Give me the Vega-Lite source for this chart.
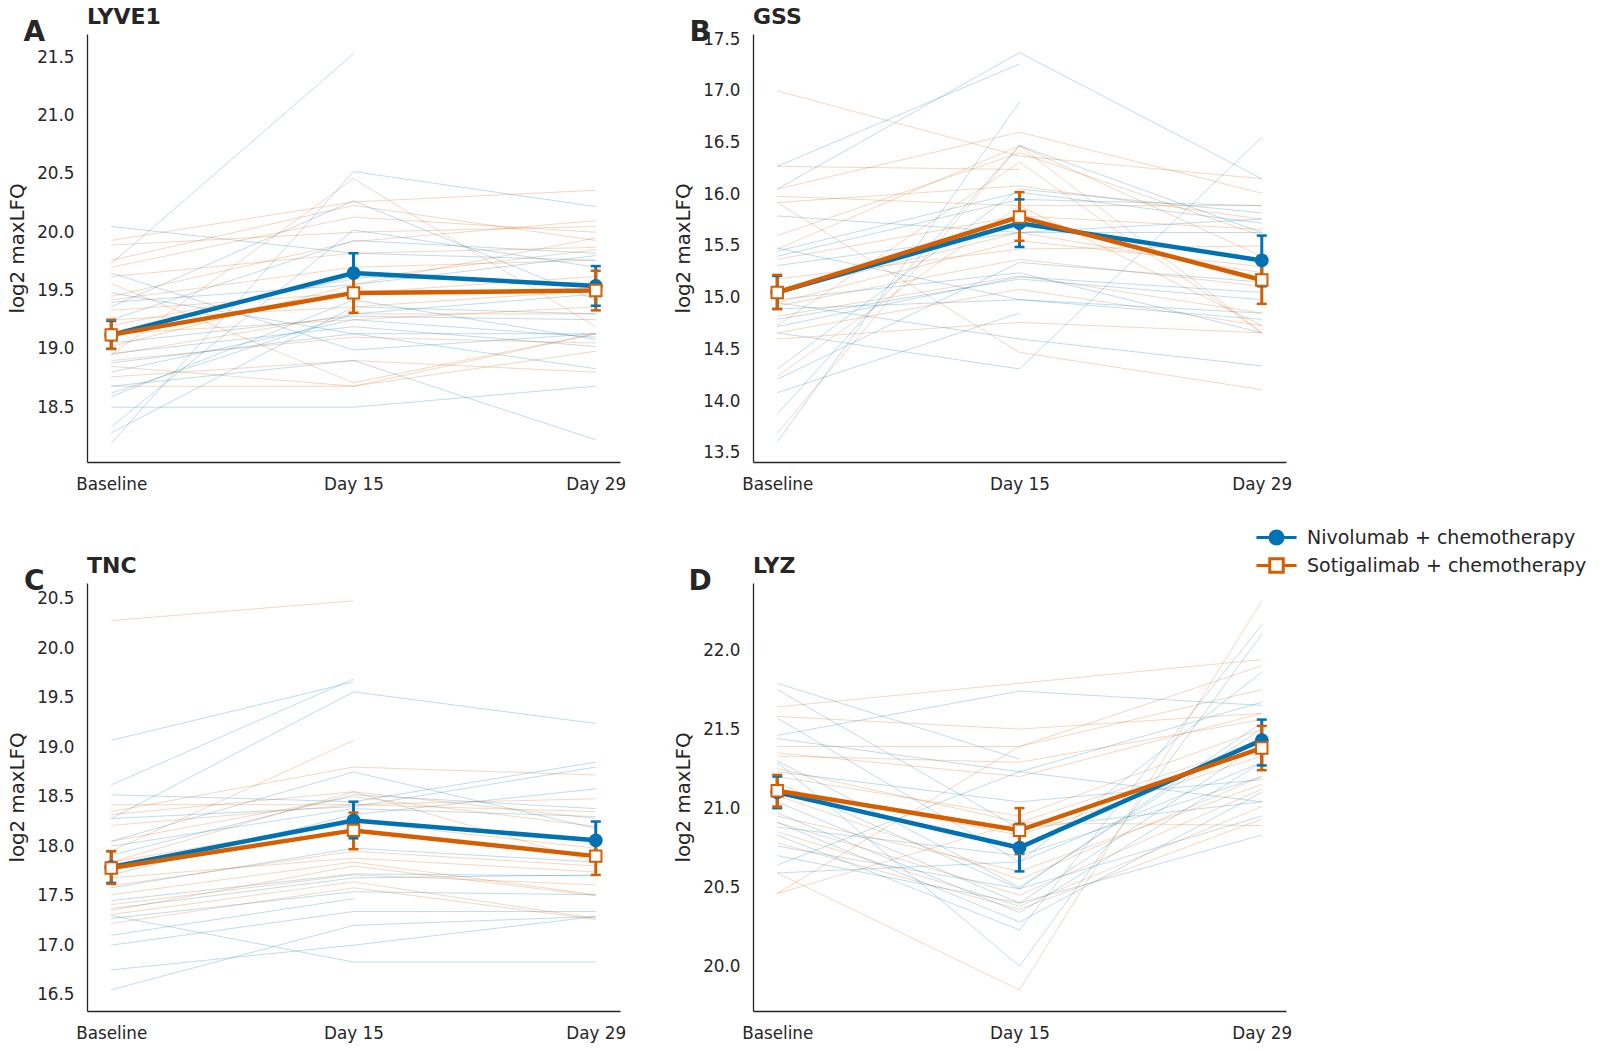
{
  "$schema": "https://vega.github.io/schema/vega-lite/v6.json",
  "background": "white",
  "padding": {"left": 7, "top": 6, "right": 5, "bottom": 5},
  "bounds": "flush",
  "columns": 2,
  "spacing": {"row": 121, "column": 133},
  "datasets": {
    "patients": [
      {"gene": "LYVE1", "arm": "Nivolumab + chemotherapy", "pid": 1, "Baseline": 18.19, "Day 15": 20.52, "Day 29": 20.22},
      {"gene": "LYVE1", "arm": "Nivolumab + chemotherapy", "pid": 2, "Baseline": 19.73, "Day 15": 21.53, "Day 29": null},
      {"gene": "LYVE1", "arm": "Nivolumab + chemotherapy", "pid": 3, "Baseline": 18.33, "Day 15": 20.02, "Day 29": 19.70},
      {"gene": "LYVE1", "arm": "Nivolumab + chemotherapy", "pid": 4, "Baseline": 18.50, "Day 15": 18.50, "Day 29": 18.68},
      {"gene": "LYVE1", "arm": "Nivolumab + chemotherapy", "pid": 5, "Baseline": 18.59, "Day 15": 19.42, "Day 29": 19.08},
      {"gene": "LYVE1", "arm": "Nivolumab + chemotherapy", "pid": 6, "Baseline": 18.68, "Day 15": 18.90, "Day 29": 18.22},
      {"gene": "LYVE1", "arm": "Nivolumab + chemotherapy", "pid": 7, "Baseline": 18.88, "Day 15": 19.13, "Day 29": 19.13},
      {"gene": "LYVE1", "arm": "Nivolumab + chemotherapy", "pid": 8, "Baseline": 18.96, "Day 15": 19.19, "Day 29": 19.02},
      {"gene": "LYVE1", "arm": "Nivolumab + chemotherapy", "pid": 9, "Baseline": 19.05, "Day 15": 19.28, "Day 29": 19.25},
      {"gene": "LYVE1", "arm": "Nivolumab + chemotherapy", "pid": 10, "Baseline": 19.13, "Day 15": 19.62, "Day 29": 19.56},
      {"gene": "LYVE1", "arm": "Nivolumab + chemotherapy", "pid": 11, "Baseline": 19.25, "Day 15": 19.93, "Day 29": 19.82},
      {"gene": "LYVE1", "arm": "Nivolumab + chemotherapy", "pid": 12, "Baseline": 19.36, "Day 15": 20.27, "Day 29": 19.42},
      {"gene": "LYVE1", "arm": "Nivolumab + chemotherapy", "pid": 13, "Baseline": 19.48, "Day 15": 19.13, "Day 29": 18.83},
      {"gene": "LYVE1", "arm": "Nivolumab + chemotherapy", "pid": 14, "Baseline": 19.65, "Day 15": 18.99, "Day 29": 19.13},
      {"gene": "LYVE1", "arm": "Nivolumab + chemotherapy", "pid": 15, "Baseline": 20.05, "Day 15": 19.82, "Day 29": 19.76},
      {"gene": "LYVE1", "arm": "Nivolumab + chemotherapy", "pid": 16, "Baseline": 18.28, "Day 15": 19.36, "Day 29": 19.30},
      {"gene": "LYVE1", "arm": "Nivolumab + chemotherapy", "pid": 17, "Baseline": 18.62, "Day 15": 19.30, "Day 29": 19.47},
      {"gene": "LYVE1", "arm": "Nivolumab + chemotherapy", "pid": 18, "Baseline": 19.40, "Day 15": 19.55, "Day 29": 19.80},
      {"gene": "LYVE1", "arm": "Nivolumab + chemotherapy", "pid": 19, "Baseline": 18.80, "Day 15": 19.25, "Day 29": 19.10},
      {"gene": "LYVE1", "arm": "Sotigalimab + chemotherapy", "pid": 101, "Baseline": 19.93, "Day 15": 20.26, "Day 29": 20.36},
      {"gene": "LYVE1", "arm": "Sotigalimab + chemotherapy", "pid": 102, "Baseline": 19.89, "Day 15": 20.00, "Day 29": 20.05},
      {"gene": "LYVE1", "arm": "Sotigalimab + chemotherapy", "pid": 103, "Baseline": 19.76, "Day 15": 20.23, "Day 29": 19.93},
      {"gene": "LYVE1", "arm": "Sotigalimab + chemotherapy", "pid": 104, "Baseline": 19.70, "Day 15": 20.13, "Day 29": 20.00},
      {"gene": "LYVE1", "arm": "Sotigalimab + chemotherapy", "pid": 105, "Baseline": 19.62, "Day 15": 19.82, "Day 29": 19.87},
      {"gene": "LYVE1", "arm": "Sotigalimab + chemotherapy", "pid": 106, "Baseline": 19.56, "Day 15": 18.71, "Day 29": 19.13},
      {"gene": "LYVE1", "arm": "Sotigalimab + chemotherapy", "pid": 107, "Baseline": 19.42, "Day 15": 19.70, "Day 29": 19.76},
      {"gene": "LYVE1", "arm": "Sotigalimab + chemotherapy", "pid": 108, "Baseline": 19.33, "Day 15": 19.48, "Day 29": 19.62},
      {"gene": "LYVE1", "arm": "Sotigalimab + chemotherapy", "pid": 109, "Baseline": 19.25, "Day 15": 19.36, "Day 29": 19.50},
      {"gene": "LYVE1", "arm": "Sotigalimab + chemotherapy", "pid": 110, "Baseline": 19.13, "Day 15": 19.25, "Day 29": 19.36},
      {"gene": "LYVE1", "arm": "Sotigalimab + chemotherapy", "pid": 111, "Baseline": 18.95, "Day 15": 20.46, "Day 29": 19.19},
      {"gene": "LYVE1", "arm": "Sotigalimab + chemotherapy", "pid": 112, "Baseline": 18.90, "Day 15": 19.10, "Day 29": 19.05},
      {"gene": "LYVE1", "arm": "Sotigalimab + chemotherapy", "pid": 113, "Baseline": 18.85, "Day 15": 18.68, "Day 29": 18.98},
      {"gene": "LYVE1", "arm": "Sotigalimab + chemotherapy", "pid": 114, "Baseline": 18.76, "Day 15": 18.90, "Day 29": 18.80},
      {"gene": "LYVE1", "arm": "Sotigalimab + chemotherapy", "pid": 115, "Baseline": 18.68, "Day 15": 18.68, "Day 29": 19.13},
      {"gene": "LYVE1", "arm": "Sotigalimab + chemotherapy", "pid": 116, "Baseline": 19.02, "Day 15": 19.55, "Day 29": 19.95},
      {"gene": "LYVE1", "arm": "Sotigalimab + chemotherapy", "pid": 117, "Baseline": 19.45, "Day 15": 19.92, "Day 29": 20.10},
      {"gene": "LYVE1", "arm": "Sotigalimab + chemotherapy", "pid": 118, "Baseline": 18.95, "Day 15": 19.30, "Day 29": 19.30},
      {"gene": "LYVE1", "arm": "Sotigalimab + chemotherapy", "pid": 119, "Baseline": 19.20, "Day 15": 19.60, "Day 29": 19.85},

      {"gene": "GSS", "arm": "Nivolumab + chemotherapy", "pid": 201, "Baseline": 16.05, "Day 15": 17.37, "Day 29": 16.15},
      {"gene": "GSS", "arm": "Nivolumab + chemotherapy", "pid": 202, "Baseline": 16.27, "Day 15": 17.26, "Day 29": null},
      {"gene": "GSS", "arm": "Nivolumab + chemotherapy", "pid": 203, "Baseline": 13.60, "Day 15": 16.89, "Day 29": null},
      {"gene": "GSS", "arm": "Nivolumab + chemotherapy", "pid": 204, "Baseline": 13.87, "Day 15": 16.47, "Day 29": 15.63},
      {"gene": "GSS", "arm": "Nivolumab + chemotherapy", "pid": 205, "Baseline": 14.66, "Day 15": 14.31, "Day 29": 16.55},
      {"gene": "GSS", "arm": "Nivolumab + chemotherapy", "pid": 206, "Baseline": 14.08, "Day 15": 14.85, "Day 29": null},
      {"gene": "GSS", "arm": "Nivolumab + chemotherapy", "pid": 207, "Baseline": 14.21, "Day 15": 15.34, "Day 29": 15.15},
      {"gene": "GSS", "arm": "Nivolumab + chemotherapy", "pid": 208, "Baseline": 14.31, "Day 15": 16.05, "Day 29": 15.82},
      {"gene": "GSS", "arm": "Nivolumab + chemotherapy", "pid": 209, "Baseline": 14.79, "Day 15": 15.18, "Day 29": 14.98},
      {"gene": "GSS", "arm": "Nivolumab + chemotherapy", "pid": 210, "Baseline": 14.89, "Day 15": 14.98, "Day 29": 14.79},
      {"gene": "GSS", "arm": "Nivolumab + chemotherapy", "pid": 211, "Baseline": 14.98, "Day 15": 15.24, "Day 29": 14.66},
      {"gene": "GSS", "arm": "Nivolumab + chemotherapy", "pid": 212, "Baseline": 15.31, "Day 15": 15.63, "Day 29": 15.76},
      {"gene": "GSS", "arm": "Nivolumab + chemotherapy", "pid": 213, "Baseline": 15.40, "Day 15": 15.95, "Day 29": 15.89},
      {"gene": "GSS", "arm": "Nivolumab + chemotherapy", "pid": 214, "Baseline": 15.48, "Day 15": 14.98, "Day 29": 14.85},
      {"gene": "GSS", "arm": "Nivolumab + chemotherapy", "pid": 215, "Baseline": 15.79, "Day 15": 15.63, "Day 29": 15.63},
      {"gene": "GSS", "arm": "Nivolumab + chemotherapy", "pid": 216, "Baseline": 14.95, "Day 15": 14.60, "Day 29": 14.34},
      {"gene": "GSS", "arm": "Nivolumab + chemotherapy", "pid": 217, "Baseline": 15.45, "Day 15": 16.02, "Day 29": 15.72},
      {"gene": "GSS", "arm": "Nivolumab + chemotherapy", "pid": 218, "Baseline": 14.72, "Day 15": 15.20, "Day 29": 15.05},
      {"gene": "GSS", "arm": "Sotigalimab + chemotherapy", "pid": 301, "Baseline": 17.00, "Day 15": 16.37, "Day 29": 16.15},
      {"gene": "GSS", "arm": "Sotigalimab + chemotherapy", "pid": 302, "Baseline": 16.27, "Day 15": 16.24, "Day 29": null},
      {"gene": "GSS", "arm": "Sotigalimab + chemotherapy", "pid": 303, "Baseline": 16.05, "Day 15": 16.60, "Day 29": 16.01},
      {"gene": "GSS", "arm": "Sotigalimab + chemotherapy", "pid": 304, "Baseline": 15.98, "Day 15": 15.89, "Day 29": 15.89},
      {"gene": "GSS", "arm": "Sotigalimab + chemotherapy", "pid": 305, "Baseline": 15.92, "Day 15": 16.08, "Day 29": 15.76},
      {"gene": "GSS", "arm": "Sotigalimab + chemotherapy", "pid": 306, "Baseline": 15.47, "Day 15": 16.47, "Day 29": 15.40},
      {"gene": "GSS", "arm": "Sotigalimab + chemotherapy", "pid": 307, "Baseline": 15.37, "Day 15": 15.79, "Day 29": 15.66},
      {"gene": "GSS", "arm": "Sotigalimab + chemotherapy", "pid": 308, "Baseline": 15.18, "Day 15": 15.47, "Day 29": 15.50},
      {"gene": "GSS", "arm": "Sotigalimab + chemotherapy", "pid": 309, "Baseline": 15.05, "Day 15": 15.63, "Day 29": 15.24},
      {"gene": "GSS", "arm": "Sotigalimab + chemotherapy", "pid": 310, "Baseline": 14.92, "Day 15": 15.37, "Day 29": 15.11},
      {"gene": "GSS", "arm": "Sotigalimab + chemotherapy", "pid": 311, "Baseline": 14.82, "Day 15": 15.21, "Day 29": 14.85},
      {"gene": "GSS", "arm": "Sotigalimab + chemotherapy", "pid": 312, "Baseline": 14.73, "Day 15": 16.31, "Day 29": 14.66},
      {"gene": "GSS", "arm": "Sotigalimab + chemotherapy", "pid": 313, "Baseline": 14.66, "Day 15": 15.08, "Day 29": 14.73},
      {"gene": "GSS", "arm": "Sotigalimab + chemotherapy", "pid": 314, "Baseline": 14.60, "Day 15": 14.76, "Day 29": 14.66},
      {"gene": "GSS", "arm": "Sotigalimab + chemotherapy", "pid": 315, "Baseline": 14.24, "Day 15": 15.89, "Day 29": 14.73},
      {"gene": "GSS", "arm": "Sotigalimab + chemotherapy", "pid": 316, "Baseline": 13.69, "Day 15": 16.47, "Day 29": 14.66},
      {"gene": "GSS", "arm": "Sotigalimab + chemotherapy", "pid": 317, "Baseline": 15.92, "Day 15": 14.47, "Day 29": 14.11},
      {"gene": "GSS", "arm": "Sotigalimab + chemotherapy", "pid": 318, "Baseline": 15.60, "Day 15": 16.40, "Day 29": 15.60},
      {"gene": "GSS", "arm": "Sotigalimab + chemotherapy", "pid": 319, "Baseline": 14.95, "Day 15": 15.55, "Day 29": 15.30},

      {"gene": "TNC", "arm": "Nivolumab + chemotherapy", "pid": 401, "Baseline": 19.07, "Day 15": 19.66, "Day 29": null},
      {"gene": "TNC", "arm": "Nivolumab + chemotherapy", "pid": 402, "Baseline": 18.62, "Day 15": 19.69, "Day 29": null},
      {"gene": "TNC", "arm": "Nivolumab + chemotherapy", "pid": 403, "Baseline": 18.28, "Day 15": 19.56, "Day 29": 19.24},
      {"gene": "TNC", "arm": "Nivolumab + chemotherapy", "pid": 404, "Baseline": 18.52, "Day 15": 18.45, "Day 29": 18.85},
      {"gene": "TNC", "arm": "Nivolumab + chemotherapy", "pid": 405, "Baseline": 18.05, "Day 15": 18.75, "Day 29": 18.18},
      {"gene": "TNC", "arm": "Nivolumab + chemotherapy", "pid": 406, "Baseline": 17.91, "Day 15": 18.52, "Day 29": 18.38},
      {"gene": "TNC", "arm": "Nivolumab + chemotherapy", "pid": 407, "Baseline": 17.71, "Day 15": 18.32, "Day 29": 18.58},
      {"gene": "TNC", "arm": "Nivolumab + chemotherapy", "pid": 408, "Baseline": 17.58, "Day 15": 17.98, "Day 29": 17.84},
      {"gene": "TNC", "arm": "Nivolumab + chemotherapy", "pid": 409, "Baseline": 17.37, "Day 15": 17.68, "Day 29": 17.71},
      {"gene": "TNC", "arm": "Nivolumab + chemotherapy", "pid": 410, "Baseline": 17.27, "Day 15": 17.54, "Day 29": 17.51},
      {"gene": "TNC", "arm": "Nivolumab + chemotherapy", "pid": 411, "Baseline": 17.10, "Day 15": 17.47, "Day 29": null},
      {"gene": "TNC", "arm": "Nivolumab + chemotherapy", "pid": 412, "Baseline": 17.00, "Day 15": 17.34, "Day 29": 17.34},
      {"gene": "TNC", "arm": "Nivolumab + chemotherapy", "pid": 413, "Baseline": 17.30, "Day 15": 16.83, "Day 29": 16.83},
      {"gene": "TNC", "arm": "Nivolumab + chemotherapy", "pid": 414, "Baseline": 16.75, "Day 15": 17.00, "Day 29": 17.29},
      {"gene": "TNC", "arm": "Nivolumab + chemotherapy", "pid": 415, "Baseline": 16.55, "Day 15": 17.20, "Day 29": 17.29},
      {"gene": "TNC", "arm": "Nivolumab + chemotherapy", "pid": 416, "Baseline": 18.28, "Day 15": 18.40, "Day 29": 18.80},
      {"gene": "TNC", "arm": "Nivolumab + chemotherapy", "pid": 417, "Baseline": 18.00, "Day 15": 18.38, "Day 29": 18.30},
      {"gene": "TNC", "arm": "Nivolumab + chemotherapy", "pid": 418, "Baseline": 17.45, "Day 15": 17.72, "Day 29": 17.70},
      {"gene": "TNC", "arm": "Sotigalimab + chemotherapy", "pid": 501, "Baseline": 20.28, "Day 15": 20.48, "Day 29": null},
      {"gene": "TNC", "arm": "Sotigalimab + chemotherapy", "pid": 502, "Baseline": 18.42, "Day 15": 18.42, "Day 29": 18.48},
      {"gene": "TNC", "arm": "Sotigalimab + chemotherapy", "pid": 503, "Baseline": 18.35, "Day 15": 18.80, "Day 29": 18.72},
      {"gene": "TNC", "arm": "Sotigalimab + chemotherapy", "pid": 504, "Baseline": 18.32, "Day 15": 18.55, "Day 29": 18.28},
      {"gene": "TNC", "arm": "Sotigalimab + chemotherapy", "pid": 505, "Baseline": 18.21, "Day 15": 18.42, "Day 29": 18.35},
      {"gene": "TNC", "arm": "Sotigalimab + chemotherapy", "pid": 506, "Baseline": 17.95, "Day 15": 19.07, "Day 29": null},
      {"gene": "TNC", "arm": "Sotigalimab + chemotherapy", "pid": 507, "Baseline": 17.84, "Day 15": 18.25, "Day 29": 17.98},
      {"gene": "TNC", "arm": "Sotigalimab + chemotherapy", "pid": 508, "Baseline": 17.68, "Day 15": 17.88, "Day 29": 17.74},
      {"gene": "TNC", "arm": "Sotigalimab + chemotherapy", "pid": 509, "Baseline": 17.51, "Day 15": 17.84, "Day 29": 17.51},
      {"gene": "TNC", "arm": "Sotigalimab + chemotherapy", "pid": 510, "Baseline": 17.41, "Day 15": 17.71, "Day 29": 17.61},
      {"gene": "TNC", "arm": "Sotigalimab + chemotherapy", "pid": 511, "Baseline": 17.31, "Day 15": 17.64, "Day 29": 17.27},
      {"gene": "TNC", "arm": "Sotigalimab + chemotherapy", "pid": 512, "Baseline": 17.22, "Day 15": 17.58, "Day 29": 17.26},
      {"gene": "TNC", "arm": "Sotigalimab + chemotherapy", "pid": 513, "Baseline": 17.84, "Day 15": 18.55, "Day 29": 17.84},
      {"gene": "TNC", "arm": "Sotigalimab + chemotherapy", "pid": 514, "Baseline": 18.05, "Day 15": 18.50, "Day 29": 18.20},
      {"gene": "TNC", "arm": "Sotigalimab + chemotherapy", "pid": 515, "Baseline": 17.60, "Day 15": 17.95, "Day 29": 17.80},
      {"gene": "TNC", "arm": "Sotigalimab + chemotherapy", "pid": 516, "Baseline": 17.35, "Day 15": 17.80, "Day 29": 17.50},

      {"gene": "LYZ", "arm": "Nivolumab + chemotherapy", "pid": 601, "Baseline": 21.79, "Day 15": 21.31, "Day 29": null},
      {"gene": "LYZ", "arm": "Nivolumab + chemotherapy", "pid": 602, "Baseline": 21.75, "Day 15": 20.87, "Day 29": 21.04},
      {"gene": "LYZ", "arm": "Nivolumab + chemotherapy", "pid": 603, "Baseline": 21.57, "Day 15": 20.66, "Day 29": 21.86},
      {"gene": "LYZ", "arm": "Nivolumab + chemotherapy", "pid": 604, "Baseline": 21.46, "Day 15": 21.74, "Day 29": 21.65},
      {"gene": "LYZ", "arm": "Nivolumab + chemotherapy", "pid": 605, "Baseline": 21.44, "Day 15": 21.23, "Day 29": 21.67},
      {"gene": "LYZ", "arm": "Nivolumab + chemotherapy", "pid": 606, "Baseline": 21.29, "Day 15": 20.00, "Day 29": 22.10},
      {"gene": "LYZ", "arm": "Nivolumab + chemotherapy", "pid": 607, "Baseline": 21.23, "Day 15": 21.04, "Day 29": 21.18},
      {"gene": "LYZ", "arm": "Nivolumab + chemotherapy", "pid": 608, "Baseline": 21.16, "Day 15": 20.49, "Day 29": 21.54},
      {"gene": "LYZ", "arm": "Nivolumab + chemotherapy", "pid": 609, "Baseline": 21.04, "Day 15": 20.40, "Day 29": 21.41},
      {"gene": "LYZ", "arm": "Nivolumab + chemotherapy", "pid": 610, "Baseline": 20.97, "Day 15": 20.34, "Day 29": 21.29},
      {"gene": "LYZ", "arm": "Nivolumab + chemotherapy", "pid": 611, "Baseline": 20.91, "Day 15": 20.28, "Day 29": 21.10},
      {"gene": "LYZ", "arm": "Nivolumab + chemotherapy", "pid": 612, "Baseline": 20.83, "Day 15": 20.23, "Day 29": 22.16},
      {"gene": "LYZ", "arm": "Nivolumab + chemotherapy", "pid": 613, "Baseline": 20.76, "Day 15": 20.49, "Day 29": 20.95},
      {"gene": "LYZ", "arm": "Nivolumab + chemotherapy", "pid": 614, "Baseline": 20.70, "Day 15": 20.40, "Day 29": 20.83},
      {"gene": "LYZ", "arm": "Nivolumab + chemotherapy", "pid": 615, "Baseline": 20.64, "Day 15": 21.23, "Day 29": 21.04},
      {"gene": "LYZ", "arm": "Nivolumab + chemotherapy", "pid": 616, "Baseline": 20.59, "Day 15": 20.66, "Day 29": 21.29},
      {"gene": "LYZ", "arm": "Nivolumab + chemotherapy", "pid": 617, "Baseline": 21.30, "Day 15": 20.50, "Day 29": 21.50},
      {"gene": "LYZ", "arm": "Nivolumab + chemotherapy", "pid": 618, "Baseline": 20.88, "Day 15": 20.70, "Day 29": 21.20},
      {"gene": "LYZ", "arm": "Sotigalimab + chemotherapy", "pid": 701, "Baseline": 21.64, "Day 15": 21.79, "Day 29": 21.94},
      {"gene": "LYZ", "arm": "Sotigalimab + chemotherapy", "pid": 702, "Baseline": 21.58, "Day 15": 21.50, "Day 29": 21.60},
      {"gene": "LYZ", "arm": "Sotigalimab + chemotherapy", "pid": 703, "Baseline": 21.39, "Day 15": 21.39, "Day 29": 21.90},
      {"gene": "LYZ", "arm": "Sotigalimab + chemotherapy", "pid": 704, "Baseline": 21.33, "Day 15": 21.29, "Day 29": 21.56},
      {"gene": "LYZ", "arm": "Sotigalimab + chemotherapy", "pid": 705, "Baseline": 21.25, "Day 15": 20.91, "Day 29": 21.41},
      {"gene": "LYZ", "arm": "Sotigalimab + chemotherapy", "pid": 706, "Baseline": 21.12, "Day 15": 20.83, "Day 29": 21.33},
      {"gene": "LYZ", "arm": "Sotigalimab + chemotherapy", "pid": 707, "Baseline": 21.08, "Day 15": 20.55, "Day 29": 21.20},
      {"gene": "LYZ", "arm": "Sotigalimab + chemotherapy", "pid": 708, "Baseline": 20.91, "Day 15": 20.45, "Day 29": 21.12},
      {"gene": "LYZ", "arm": "Sotigalimab + chemotherapy", "pid": 709, "Baseline": 20.85, "Day 15": 20.38, "Day 29": 21.01},
      {"gene": "LYZ", "arm": "Sotigalimab + chemotherapy", "pid": 710, "Baseline": 20.78, "Day 15": 20.36, "Day 29": 20.93},
      {"gene": "LYZ", "arm": "Sotigalimab + chemotherapy", "pid": 711, "Baseline": 20.59, "Day 15": 19.85, "Day 29": 22.31},
      {"gene": "LYZ", "arm": "Sotigalimab + chemotherapy", "pid": 712, "Baseline": 20.46, "Day 15": 21.39, "Day 29": 21.75},
      {"gene": "LYZ", "arm": "Sotigalimab + chemotherapy", "pid": 713, "Baseline": 20.46, "Day 15": 20.91, "Day 29": 20.89},
      {"gene": "LYZ", "arm": "Sotigalimab + chemotherapy", "pid": 714, "Baseline": 21.20, "Day 15": 20.95, "Day 29": 21.50},
      {"gene": "LYZ", "arm": "Sotigalimab + chemotherapy", "pid": 715, "Baseline": 20.95, "Day 15": 20.60, "Day 29": 21.15},
      {"gene": "LYZ", "arm": "Sotigalimab + chemotherapy", "pid": 716, "Baseline": 21.35, "Day 15": 21.20, "Day 29": 21.60}
    ],
    "means": [
      {"gene": "LYVE1", "arm": "Nivolumab + chemotherapy", "time": "Baseline", "m": 19.12, "lo": 19.00, "hi": 19.24},
      {"gene": "LYVE1", "arm": "Nivolumab + chemotherapy", "time": "Day 15", "m": 19.65, "lo": 19.48, "hi": 19.82},
      {"gene": "LYVE1", "arm": "Nivolumab + chemotherapy", "time": "Day 29", "m": 19.54, "lo": 19.37, "hi": 19.71},
      {"gene": "GSS", "arm": "Nivolumab + chemotherapy", "time": "Baseline", "m": 15.05, "lo": 14.89, "hi": 15.21},
      {"gene": "GSS", "arm": "Nivolumab + chemotherapy", "time": "Day 15", "m": 15.72, "lo": 15.49, "hi": 15.95},
      {"gene": "GSS", "arm": "Nivolumab + chemotherapy", "time": "Day 29", "m": 15.36, "lo": 15.11, "hi": 15.60},
      {"gene": "TNC", "arm": "Nivolumab + chemotherapy", "time": "Baseline", "m": 17.79, "lo": 17.63, "hi": 17.95},
      {"gene": "TNC", "arm": "Nivolumab + chemotherapy", "time": "Day 15", "m": 18.26, "lo": 18.08, "hi": 18.45},
      {"gene": "TNC", "arm": "Nivolumab + chemotherapy", "time": "Day 29", "m": 18.06, "lo": 17.86, "hi": 18.25},
      {"gene": "LYZ", "arm": "Nivolumab + chemotherapy", "time": "Baseline", "m": 21.10, "lo": 21.00, "hi": 21.20},
      {"gene": "LYZ", "arm": "Nivolumab + chemotherapy", "time": "Day 15", "m": 20.75, "lo": 20.60, "hi": 20.90},
      {"gene": "LYZ", "arm": "Nivolumab + chemotherapy", "time": "Day 29", "m": 21.43, "lo": 21.27, "hi": 21.56},
      {"gene": "LYVE1", "arm": "Sotigalimab + chemotherapy", "time": "Baseline", "m": 19.12, "lo": 19.00, "hi": 19.25},
      {"gene": "LYVE1", "arm": "Sotigalimab + chemotherapy", "time": "Day 15", "m": 19.48, "lo": 19.31, "hi": 19.64},
      {"gene": "LYVE1", "arm": "Sotigalimab + chemotherapy", "time": "Day 29", "m": 19.50, "lo": 19.33, "hi": 19.67},
      {"gene": "GSS", "arm": "Sotigalimab + chemotherapy", "time": "Baseline", "m": 15.05, "lo": 14.89, "hi": 15.22},
      {"gene": "GSS", "arm": "Sotigalimab + chemotherapy", "time": "Day 15", "m": 15.78, "lo": 15.55, "hi": 16.02},
      {"gene": "GSS", "arm": "Sotigalimab + chemotherapy", "time": "Day 29", "m": 15.17, "lo": 14.94, "hi": 15.40},
      {"gene": "TNC", "arm": "Sotigalimab + chemotherapy", "time": "Baseline", "m": 17.78, "lo": 17.62, "hi": 17.95},
      {"gene": "TNC", "arm": "Sotigalimab + chemotherapy", "time": "Day 15", "m": 18.16, "lo": 17.97, "hi": 18.34},
      {"gene": "TNC", "arm": "Sotigalimab + chemotherapy", "time": "Day 29", "m": 17.90, "lo": 17.71, "hi": 18.08},
      {"gene": "LYZ", "arm": "Sotigalimab + chemotherapy", "time": "Baseline", "m": 21.11, "lo": 21.01, "hi": 21.21},
      {"gene": "LYZ", "arm": "Sotigalimab + chemotherapy", "time": "Day 15", "m": 20.86, "lo": 20.71, "hi": 21.00},
      {"gene": "LYZ", "arm": "Sotigalimab + chemotherapy", "time": "Day 29", "m": 21.38, "lo": 21.24, "hi": 21.52}
    ]
  },
  "concat": [
    {
      "width": 533, "height": 428,
      "title": {"text": "LYVE1"},
      "layer": [
        {
          "data": {"name": "patients"},
          "transform": [
            {"filter": "datum.gene == 'LYVE1'"},
            {"fold": ["Baseline", "Day 15", "Day 29"], "as": ["time", "val"]},
            {"filter": "isValid(datum.val)"}
          ],
          "mark": {"type": "line", "strokeWidth": 1, "strokeOpacity": 0.25},
          "encoding": {
            "x": {"field": "time", "type": "ordinal", "scale": {"type": "point", "domain": ["Baseline", "Day 15", "Day 29"], "padding": 0.1}, "axis": {"title": null, "labelAngle": 0}},
            "y": {"field": "val", "type": "quantitative", "title": "log2 maxLFQ", "scale": {"domain": [18.03, 21.70], "zero": false, "nice": false}, "axis": {"values": [18.5, 19, 19.5, 20, 20.5, 21, 21.5], "format": ".1f"}},
            "color": {"field": "arm", "type": "nominal", "title": null,
              "scale": {"domain": ["Nivolumab + chemotherapy", "Sotigalimab + chemotherapy"], "range": ["#0072B2", "#D55E00"]},
              "legend": {
                "orient": "none", "legendX": 1179, "legendY": 493, "title": null,
                "symbolSize": 324, "symbolStrokeWidth": 3, "symbolOpacity": 1, "labelOffset": 20, "rowPadding": 2, "padding": 0,
                "labelFontSize": 19, "labelColor": "#262626", "labelFont": "DejaVu Sans", "labelLimit": 500,
                "encode": {"symbols": {"update": {
                  "shape": {"signal": "datum.value == 'Nivolumab + chemotherapy' ? 'M-2.23,0H2.23M-0.72,0A0.72,0.72,0,1,1,0.72,0A0.72,0.72,0,1,1,-0.72,0Z' : 'M-2.23,0H-0.75M0.75,0H2.23M-0.75,-0.75H0.75V0.75H-0.75Z'"},
                  "fill": {"signal": "datum.value == 'Nivolumab + chemotherapy' ? '#0072B2' : '#ffffff'"},
                  "opacity": {"value": 1},
                  "strokeOpacity": {"value": 1},
                  "fillOpacity": {"value": 1}
                }}}
              }},
            "detail": {"field": "pid"}
          }
        },
        {
          "data": {"name": "means"},
          "transform": [{"filter": "datum.gene == 'LYVE1'"}],
          "layer": [
            {"mark": {"type": "line", "strokeWidth": 4.5}, "encoding": {"x": {"field": "time", "type": "ordinal"}, "y": {"field": "m", "type": "quantitative", "title": "log2 maxLFQ"}, "color": {"field": "arm", "type": "nominal", "title": null}}},
            {"mark": {"type": "rule", "strokeWidth": 3}, "encoding": {"x": {"field": "time", "type": "ordinal"}, "y": {"field": "lo", "type": "quantitative", "title": "log2 maxLFQ"}, "y2": {"field": "hi"}, "color": {"field": "arm", "type": "nominal", "title": null}}},
            {"mark": {"type": "rule", "strokeWidth": 2.5, "xOffset": -5, "x2Offset": 5}, "encoding": {"x": {"field": "time", "type": "ordinal"}, "x2": {"field": "time"}, "y": {"field": "lo", "type": "quantitative", "title": "log2 maxLFQ"}, "color": {"field": "arm", "type": "nominal", "title": null}}},
            {"mark": {"type": "rule", "strokeWidth": 2.5, "xOffset": -5, "x2Offset": 5}, "encoding": {"x": {"field": "time", "type": "ordinal"}, "x2": {"field": "time"}, "y": {"field": "hi", "type": "quantitative", "title": "log2 maxLFQ"}, "color": {"field": "arm", "type": "nominal", "title": null}}},
            {"transform": [{"filter": "datum.arm == 'Nivolumab + chemotherapy'"}], "mark": {"type": "point", "shape": "circle", "filled": false, "fill": "#0072B2", "fillOpacity": 1, "size": 140, "strokeWidth": 2, "opacity": 1}, "encoding": {"x": {"field": "time", "type": "ordinal"}, "y": {"field": "m", "type": "quantitative", "title": "log2 maxLFQ"}, "color": {"field": "arm", "type": "nominal", "title": null}}},
            {"transform": [{"filter": "datum.arm == 'Sotigalimab + chemotherapy'"}], "mark": {"type": "point", "shape": "square", "filled": false, "fill": "#ffffff", "fillOpacity": 1, "size": 130, "strokeWidth": 2, "opacity": 1}, "encoding": {"x": {"field": "time", "type": "ordinal"}, "y": {"field": "m", "type": "quantitative", "title": "log2 maxLFQ"}, "color": {"field": "arm", "type": "nominal", "title": null}}}
          ]
        },
        {
          "data": {"values": [{"lab": "A"}]},
          "mark": {"type": "text", "fontSize": 28, "fontWeight": "bold", "dx": -77, "dy": 7, "align": "center", "baseline": "alphabetic", "color": "#262626"},
          "encoding": {"x": {"datum": "Baseline", "type": "ordinal"}, "y": {"datum": 21.70, "type": "quantitative"}, "text": {"field": "lab"}}
        }
      ]
    },
    {
      "width": 533, "height": 428,
      "title": {"text": "GSS"},
      "layer": [
        {
          "data": {"name": "patients"},
          "transform": [
            {"filter": "datum.gene == 'GSS'"},
            {"fold": ["Baseline", "Day 15", "Day 29"], "as": ["time", "val"]},
            {"filter": "isValid(datum.val)"}
          ],
          "mark": {"type": "line", "strokeWidth": 1, "strokeOpacity": 0.25},
          "encoding": {
            "x": {"field": "time", "type": "ordinal", "scale": {"type": "point", "domain": ["Baseline", "Day 15", "Day 29"], "padding": 0.1}, "axis": {"title": null, "labelAngle": 0}},
            "y": {"field": "val", "type": "quantitative", "title": "log2 maxLFQ", "scale": {"domain": [13.41, 17.55], "zero": false, "nice": false}, "axis": {"values": [13.5, 14, 14.5, 15, 15.5, 16, 16.5, 17, 17.5], "format": ".1f"}},
            "color": {"field": "arm", "type": "nominal", "title": null},
            "detail": {"field": "pid"}
          }
        },
        {
          "data": {"name": "means"},
          "transform": [{"filter": "datum.gene == 'GSS'"}],
          "layer": [
            {"mark": {"type": "line", "strokeWidth": 4.5}, "encoding": {"x": {"field": "time", "type": "ordinal"}, "y": {"field": "m", "type": "quantitative", "title": "log2 maxLFQ"}, "color": {"field": "arm", "type": "nominal", "title": null}}},
            {"mark": {"type": "rule", "strokeWidth": 3}, "encoding": {"x": {"field": "time", "type": "ordinal"}, "y": {"field": "lo", "type": "quantitative", "title": "log2 maxLFQ"}, "y2": {"field": "hi"}, "color": {"field": "arm", "type": "nominal", "title": null}}},
            {"mark": {"type": "rule", "strokeWidth": 2.5, "xOffset": -5, "x2Offset": 5}, "encoding": {"x": {"field": "time", "type": "ordinal"}, "x2": {"field": "time"}, "y": {"field": "lo", "type": "quantitative", "title": "log2 maxLFQ"}, "color": {"field": "arm", "type": "nominal", "title": null}}},
            {"mark": {"type": "rule", "strokeWidth": 2.5, "xOffset": -5, "x2Offset": 5}, "encoding": {"x": {"field": "time", "type": "ordinal"}, "x2": {"field": "time"}, "y": {"field": "hi", "type": "quantitative", "title": "log2 maxLFQ"}, "color": {"field": "arm", "type": "nominal", "title": null}}},
            {"transform": [{"filter": "datum.arm == 'Nivolumab + chemotherapy'"}], "mark": {"type": "point", "shape": "circle", "filled": false, "fill": "#0072B2", "fillOpacity": 1, "size": 140, "strokeWidth": 2, "opacity": 1}, "encoding": {"x": {"field": "time", "type": "ordinal"}, "y": {"field": "m", "type": "quantitative", "title": "log2 maxLFQ"}, "color": {"field": "arm", "type": "nominal", "title": null}}},
            {"transform": [{"filter": "datum.arm == 'Sotigalimab + chemotherapy'"}], "mark": {"type": "point", "shape": "square", "filled": false, "fill": "#ffffff", "fillOpacity": 1, "size": 130, "strokeWidth": 2, "opacity": 1}, "encoding": {"x": {"field": "time", "type": "ordinal"}, "y": {"field": "m", "type": "quantitative", "title": "log2 maxLFQ"}, "color": {"field": "arm", "type": "nominal", "title": null}}}
          ]
        },
        {
          "data": {"values": [{"lab": "B"}]},
          "mark": {"type": "text", "fontSize": 28, "fontWeight": "bold", "dx": -77, "dy": 7, "align": "center", "baseline": "alphabetic", "color": "#262626"},
          "encoding": {"x": {"datum": "Baseline", "type": "ordinal"}, "y": {"datum": 17.55, "type": "quantitative"}, "text": {"field": "lab"}}
        }
      ]
    },
    {
      "width": 533, "height": 428,
      "title": {"text": "TNC"},
      "layer": [
        {
          "data": {"name": "patients"},
          "transform": [
            {"filter": "datum.gene == 'TNC'"},
            {"fold": ["Baseline", "Day 15", "Day 29"], "as": ["time", "val"]},
            {"filter": "isValid(datum.val)"}
          ],
          "mark": {"type": "line", "strokeWidth": 1, "strokeOpacity": 0.25},
          "encoding": {
            "x": {"field": "time", "type": "ordinal", "scale": {"type": "point", "domain": ["Baseline", "Day 15", "Day 29"], "padding": 0.1}, "axis": {"title": null, "labelAngle": 0}},
            "y": {"field": "val", "type": "quantitative", "title": "log2 maxLFQ", "scale": {"domain": [16.335, 20.66], "zero": false, "nice": false}, "axis": {"values": [16.5, 17, 17.5, 18, 18.5, 19, 19.5, 20, 20.5], "format": ".1f"}},
            "color": {"field": "arm", "type": "nominal", "title": null},
            "detail": {"field": "pid"}
          }
        },
        {
          "data": {"name": "means"},
          "transform": [{"filter": "datum.gene == 'TNC'"}],
          "layer": [
            {"mark": {"type": "line", "strokeWidth": 4.5}, "encoding": {"x": {"field": "time", "type": "ordinal"}, "y": {"field": "m", "type": "quantitative", "title": "log2 maxLFQ"}, "color": {"field": "arm", "type": "nominal", "title": null}}},
            {"mark": {"type": "rule", "strokeWidth": 3}, "encoding": {"x": {"field": "time", "type": "ordinal"}, "y": {"field": "lo", "type": "quantitative", "title": "log2 maxLFQ"}, "y2": {"field": "hi"}, "color": {"field": "arm", "type": "nominal", "title": null}}},
            {"mark": {"type": "rule", "strokeWidth": 2.5, "xOffset": -5, "x2Offset": 5}, "encoding": {"x": {"field": "time", "type": "ordinal"}, "x2": {"field": "time"}, "y": {"field": "lo", "type": "quantitative", "title": "log2 maxLFQ"}, "color": {"field": "arm", "type": "nominal", "title": null}}},
            {"mark": {"type": "rule", "strokeWidth": 2.5, "xOffset": -5, "x2Offset": 5}, "encoding": {"x": {"field": "time", "type": "ordinal"}, "x2": {"field": "time"}, "y": {"field": "hi", "type": "quantitative", "title": "log2 maxLFQ"}, "color": {"field": "arm", "type": "nominal", "title": null}}},
            {"transform": [{"filter": "datum.arm == 'Nivolumab + chemotherapy'"}], "mark": {"type": "point", "shape": "circle", "filled": false, "fill": "#0072B2", "fillOpacity": 1, "size": 140, "strokeWidth": 2, "opacity": 1}, "encoding": {"x": {"field": "time", "type": "ordinal"}, "y": {"field": "m", "type": "quantitative", "title": "log2 maxLFQ"}, "color": {"field": "arm", "type": "nominal", "title": null}}},
            {"transform": [{"filter": "datum.arm == 'Sotigalimab + chemotherapy'"}], "mark": {"type": "point", "shape": "square", "filled": false, "fill": "#ffffff", "fillOpacity": 1, "size": 130, "strokeWidth": 2, "opacity": 1}, "encoding": {"x": {"field": "time", "type": "ordinal"}, "y": {"field": "m", "type": "quantitative", "title": "log2 maxLFQ"}, "color": {"field": "arm", "type": "nominal", "title": null}}}
          ]
        },
        {
          "data": {"values": [{"lab": "C"}]},
          "mark": {"type": "text", "fontSize": 28, "fontWeight": "bold", "dx": -77, "dy": 7, "align": "center", "baseline": "alphabetic", "color": "#262626"},
          "encoding": {"x": {"datum": "Baseline", "type": "ordinal"}, "y": {"datum": 20.66, "type": "quantitative"}, "text": {"field": "lab"}}
        }
      ]
    },
    {
      "width": 533, "height": 428,
      "title": {"text": "LYZ"},
      "layer": [
        {
          "data": {"name": "patients"},
          "transform": [
            {"filter": "datum.gene == 'LYZ'"},
            {"fold": ["Baseline", "Day 15", "Day 29"], "as": ["time", "val"]},
            {"filter": "isValid(datum.val)"}
          ],
          "mark": {"type": "line", "strokeWidth": 1, "strokeOpacity": 0.25},
          "encoding": {
            "x": {"field": "time", "type": "ordinal", "scale": {"type": "point", "domain": ["Baseline", "Day 15", "Day 29"], "padding": 0.1}, "axis": {"title": null, "labelAngle": 0}},
            "y": {"field": "val", "type": "quantitative", "title": "log2 maxLFQ", "scale": {"domain": [19.717, 22.424], "zero": false, "nice": false}, "axis": {"values": [20, 20.5, 21, 21.5, 22], "format": ".1f"}},
            "color": {"field": "arm", "type": "nominal", "title": null},
            "detail": {"field": "pid"}
          }
        },
        {
          "data": {"name": "means"},
          "transform": [{"filter": "datum.gene == 'LYZ'"}],
          "layer": [
            {"mark": {"type": "line", "strokeWidth": 4.5}, "encoding": {"x": {"field": "time", "type": "ordinal"}, "y": {"field": "m", "type": "quantitative", "title": "log2 maxLFQ"}, "color": {"field": "arm", "type": "nominal", "title": null}}},
            {"mark": {"type": "rule", "strokeWidth": 3}, "encoding": {"x": {"field": "time", "type": "ordinal"}, "y": {"field": "lo", "type": "quantitative", "title": "log2 maxLFQ"}, "y2": {"field": "hi"}, "color": {"field": "arm", "type": "nominal", "title": null}}},
            {"mark": {"type": "rule", "strokeWidth": 2.5, "xOffset": -5, "x2Offset": 5}, "encoding": {"x": {"field": "time", "type": "ordinal"}, "x2": {"field": "time"}, "y": {"field": "lo", "type": "quantitative", "title": "log2 maxLFQ"}, "color": {"field": "arm", "type": "nominal", "title": null}}},
            {"mark": {"type": "rule", "strokeWidth": 2.5, "xOffset": -5, "x2Offset": 5}, "encoding": {"x": {"field": "time", "type": "ordinal"}, "x2": {"field": "time"}, "y": {"field": "hi", "type": "quantitative", "title": "log2 maxLFQ"}, "color": {"field": "arm", "type": "nominal", "title": null}}},
            {"transform": [{"filter": "datum.arm == 'Nivolumab + chemotherapy'"}], "mark": {"type": "point", "shape": "circle", "filled": false, "fill": "#0072B2", "fillOpacity": 1, "size": 140, "strokeWidth": 2, "opacity": 1}, "encoding": {"x": {"field": "time", "type": "ordinal"}, "y": {"field": "m", "type": "quantitative", "title": "log2 maxLFQ"}, "color": {"field": "arm", "type": "nominal", "title": null}}},
            {"transform": [{"filter": "datum.arm == 'Sotigalimab + chemotherapy'"}], "mark": {"type": "point", "shape": "square", "filled": false, "fill": "#ffffff", "fillOpacity": 1, "size": 130, "strokeWidth": 2, "opacity": 1}, "encoding": {"x": {"field": "time", "type": "ordinal"}, "y": {"field": "m", "type": "quantitative", "title": "log2 maxLFQ"}, "color": {"field": "arm", "type": "nominal", "title": null}}}
          ]
        },
        {
          "data": {"values": [{"lab": "D"}]},
          "mark": {"type": "text", "fontSize": 28, "fontWeight": "bold", "dx": -77, "dy": 7, "align": "center", "baseline": "alphabetic", "color": "#262626"},
          "encoding": {"x": {"datum": "Baseline", "type": "ordinal"}, "y": {"datum": 22.424, "type": "quantitative"}, "text": {"field": "lab"}}
        }
      ]
    }
  ],
  "resolve": {"scale": {"color": "shared"}},
  "config": {
    "font": "DejaVu Sans",
    "view": {"stroke": null},
    "axis": {
      "grid": false, "ticks": false,
      "domainColor": "#262626", "domainWidth": 1.3,
      "labelFontSize": 16.8, "labelColor": "#262626", "labelFont": "DejaVu Sans",
      "titleFontSize": 19.8, "titleFontWeight": "normal", "titleColor": "#262626", "titleFont": "DejaVu Sans"
    },
    "axisX": {"labelPadding": 14},
    "axisY": {"labelPadding": 13, "titlePadding": 9},
    "title": {"fontSize": 22, "fontWeight": "bold", "anchor": "start", "frame": "group", "color": "#262626", "baseline": "alphabetic", "offset": -10, "font": "DejaVu Sans"}
  }
}
